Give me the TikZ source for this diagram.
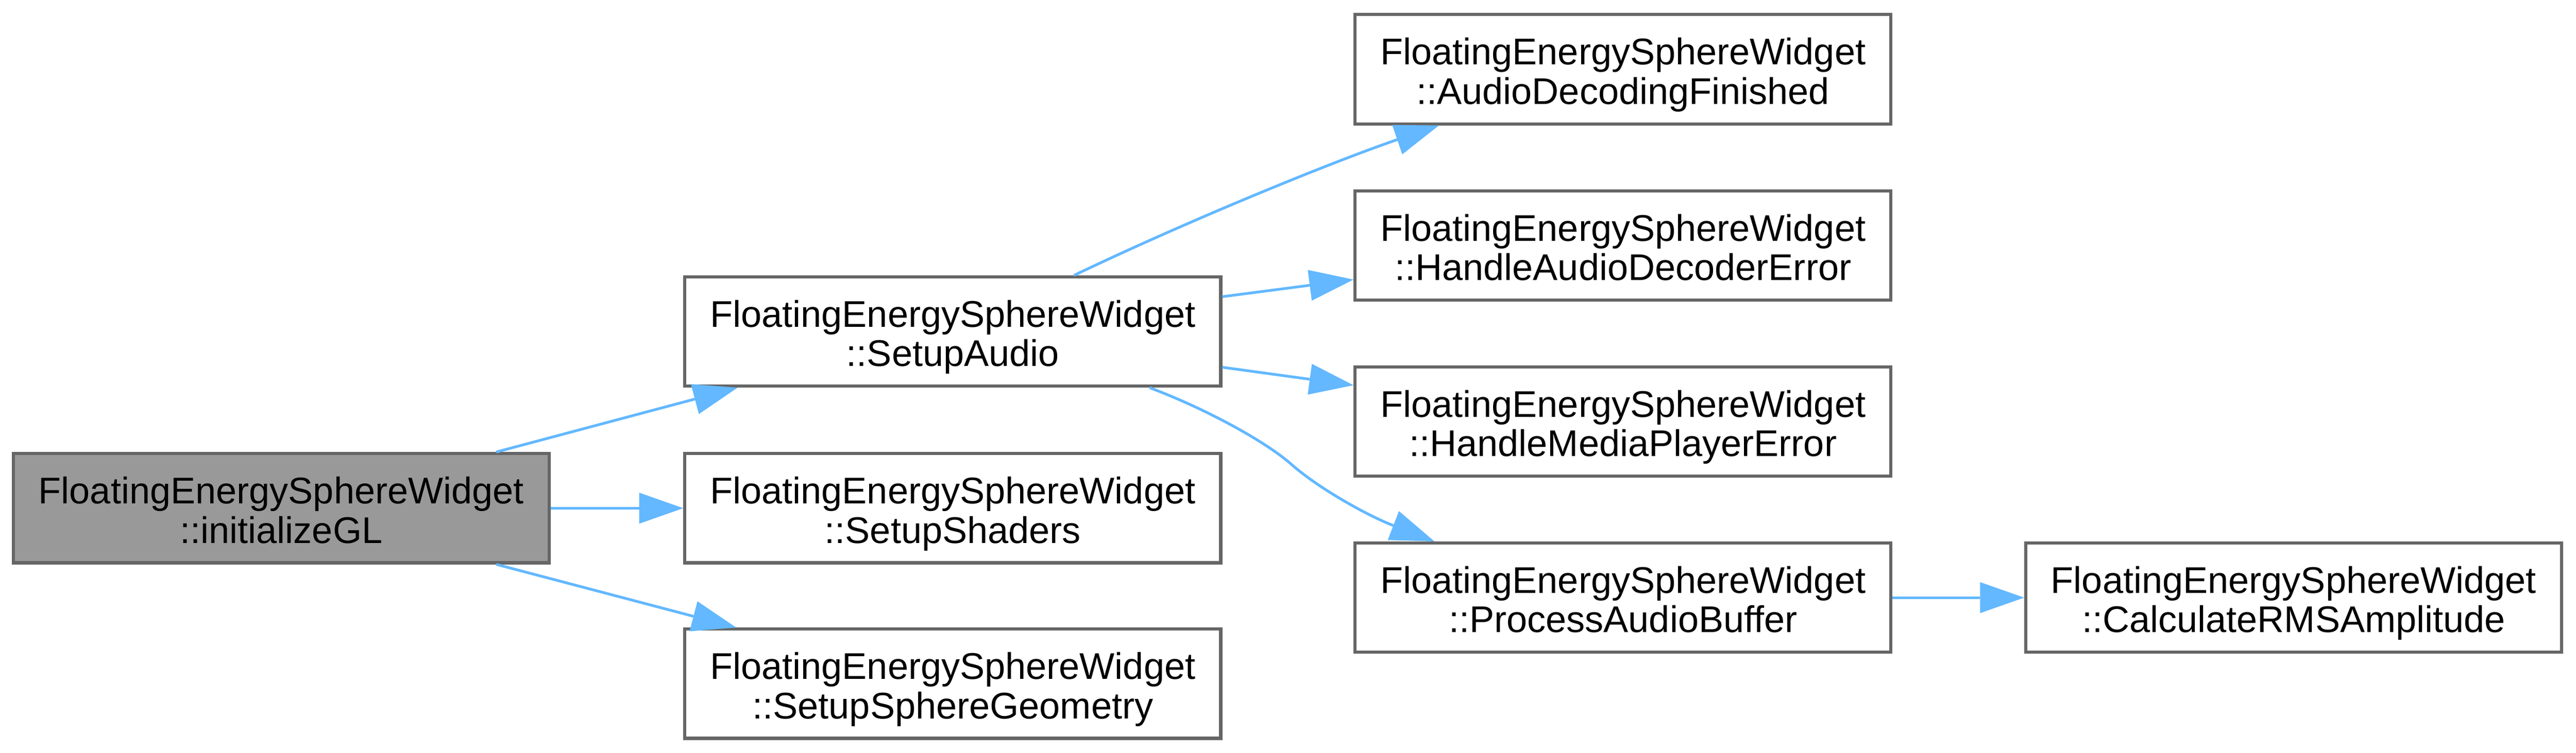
\documentclass[tikz,border=0pt]{standalone}
\usepackage{fontspec}
\setmainfont{Liberation Sans}
\usetikzlibrary{arrows.meta}
\definecolor{edgeblue}{HTML}{63B8FF}
\definecolor{boxborder}{HTML}{666666}
\definecolor{boxgray}{HTML}{999999}
\newcommand{\fnlabel}[1]{\begin{tabular}[t]{@{}c@{}}FloatingEnergySphereWidget\\#1\end{tabular}}
\tikzset{
  fnbox/.style={draw=boxborder, line width=0.07cm, fill=white, rectangle,
    minimum width=11.91cm, minimum height=2.43cm, inner sep=0pt,
    text height=0.5cm, text depth=0.7cm,
    font=\fontsize{23.5pt}{24.9pt}\selectfont},
  curbox/.style={fnbox, fill=boxgray},
  calledge/.style={draw=edgeblue, line width=0.06cm,
    -{Triangle[length=0.98cm, width=0.69cm, line width=0pt]}}
}
\begin{document}
\begin{tikzpicture}
\useasboundingbox (0,0) rectangle (57.25,-16.75);
\node[curbox] (ini)  at (6.25,-11.305)   {\fnlabel{::initializeGL}};
\node[fnbox]  (sa)   at (21.175,-7.375)  {\fnlabel{::SetupAudio}};
\node[fnbox]  (ss)   at (21.175,-11.305) {\fnlabel{::SetupShaders}};
\node[fnbox]  (ssg)  at (21.175,-15.21)  {\fnlabel{::SetupSphereGeometry}};
\node[fnbox]  (adf)  at (36.07,-1.54)    {\fnlabel{::AudioDecodingFinished}};
\node[fnbox]  (hade) at (36.07,-5.465)   {\fnlabel{::HandleAudioDecoderError}};
\node[fnbox]  (hmpe) at (36.07,-9.38)    {\fnlabel{::HandleMediaPlayerError}};
\node[fnbox]  (pab)  at (36.07,-13.295)  {\fnlabel{::ProcessAudioBuffer}};
\node[fnbox]  (rms)  at (50.975,-13.295) {\fnlabel{::CalculateRMSAmplitude}};

\draw[calledge] ([xshift=4.78cm]ini.north) -- ([xshift=-4.785cm]sa.south);
\draw[calledge] (ini.east) -- (ss.west);
\draw[calledge] ([xshift=4.78cm]ini.south) -- ([xshift=-4.815cm]ssg.north);
\draw[calledge] ([xshift=2.695cm]sa.north) .. controls +(2.5,1.2) and +(-2.37,-0.81) .. ([xshift=-4.09cm]adf.south);
\draw[calledge] ([yshift=0.775cm]sa.east) -- ([yshift=-0.755cm]hade.west);
\draw[calledge] ([yshift=-0.795cm]sa.east) -- ([yshift=0.81cm]hmpe.west);
\draw[calledge] ([xshift=4.375cm]sa.south) .. controls +(1.2,-0.45) and +(-0.6,0.53) .. (28.70,-10.33)
  .. controls +(0.6,-0.53) and +(-1.5,0.58) .. ([xshift=-4.19cm]pab.north);
\draw[calledge] (pab.east) -- (rms.west);
\end{tikzpicture}
\end{document}
